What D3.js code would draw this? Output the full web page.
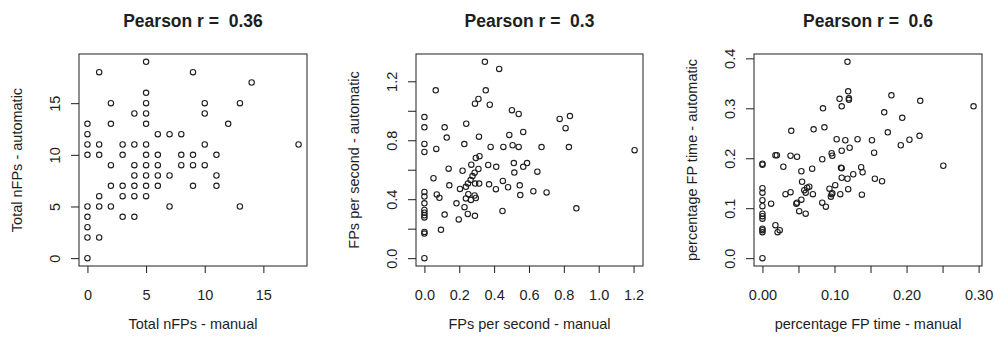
<!DOCTYPE html>
<html>
<head>
<meta charset="utf-8">
<script src="https://cdn.jsdelivr.net/npm/d3@7"></script>
<style>
  body { margin: 0; background: #fff; }
  svg { display: block; }
  text { font-family: "Liberation Sans", Arial, sans-serif; fill: #1e1e1e; white-space: pre; }
</style>
</head>
<body>
<svg id="chart" width="994" height="339"></svg>
<script>
// panel 1 - total number of FPs (counts)
const nfpManual = [
  0, 0, 0, 0, 0, 0, 0, 0, 0,
  1, 1, 1, 1, 1, 1,
  2, 2, 2, 2, 2,
  3, 3, 3, 3, 3,
  4, 4, 4, 4, 4, 4, 4,
  5, 5, 5, 5, 5, 5, 5, 5, 5, 5, 5,
  6, 6, 6, 6, 6,
  7, 7, 7,
  8, 8, 8,
  9, 9, 9, 9,
  10, 10, 10, 10,
  11, 11, 11,
  12, 13, 13, 14, 18
];
const nfpAuto = [
  13, 12, 11, 10, 5, 4, 3, 2, 0,
  18, 11, 10, 6, 5, 2,
  15, 13, 9, 7, 5,
  11, 10, 7, 6, 4,
  14, 11, 9, 8, 7, 6, 4,
  19, 16, 15, 14, 13, 11, 10, 9, 8, 7, 6,
  12, 10, 9, 8, 7,
  12, 8, 5,
  12, 10, 9,
  18, 10, 9, 7,
  15, 14, 11, 9,
  10, 8, 7,
  13, 15, 5, 17, 11
];

// panel 2 - FPs per second
const fpsManual = [
  0.347, 0.429, 0.065, 0.352, 0.310, 0.290, 0.375, 0.502, 0.541, 0, 0.776, 0.835,
  0, 0.116, 0.810, 0.240, 0.567, 0.487, 0.128, 0.313, 0, 0, 0.229, 0.068,
  0.380, 0.453, 0.506, 0.541, 0.672, 0.829, 1.206, 0.139, 0.219, 0.310, 0.269, 0.295,
  0.316, 0.366, 0.412, 0.513, 0.589, 0.516, 0.567, 0.648, 0.052, 0.143, 0.204, 0.238,
  0.250, 0.265, 0.276, 0.288, 0.291, 0.314, 0.371, 0.410, 0.450, 0.480, 0.547, 0.550,
  0.625, 0.701, 0, 0, 0, 0, 0, 0, 0, 0, 0, 0,
  0.071, 0.086, 0.116, 0.095, 0.184, 0.197, 0.230, 0.238, 0.252, 0.249, 0.267, 0.288,
  0.295, 0.290, 0.448, 0.872
];
const fpsAuto = [
  1.332, 1.284, 1.139, 1.139, 1.080, 1.048, 1.041, 1.004, 0.978, 0.957, 0.945, 0.964,
  0.888, 0.888, 0.882, 0.912, 0.856, 0.836, 0.818, 0.824, 0.775, 0.721, 0.774, 0.741,
  0.755, 0.755, 0.766, 0.755, 0.754, 0.754, 0.733, 0.607, 0.593, 0.605, 0.634, 0.680,
  0.692, 0.632, 0.620, 0.645, 0.645, 0.581, 0.620, 0.587, 0.542, 0.494, 0.470, 0.484,
  0.507, 0.530, 0.557, 0.580, 0.506, 0.506, 0.501, 0.468, 0.524, 0.481, 0.494, 0.428,
  0.454, 0.446, 0.449, 0.418, 0.372, 0.327, 0.308, 0.291, 0.276, 0.178, 0.167, 0,
  0.432, 0.410, 0.296, 0.192, 0.372, 0.263, 0.346, 0.405, 0.434, 0.300, 0.395, 0.425,
  0.408, 0.287, 0.320, 0.338
];

// panel 3 - percentage of time spent in FPs
const timeManual = [
  0.118, 0.119, 0.120, 0.120, 0.107, 0.110, 0.084, 0.179, 0.169, 0.219, 0.293, 0.194,
  0.086, 0.071, 0.040, 0.174, 0.218, 0.204, 0.103, 0.115, 0.132, 0.152, 0.192, 0.121,
  0.110, 0.155, 0.096, 0.097, 0.018, 0.020, 0.039, 0.048, 0, 0, 0.029, 0.083,
  0.069, 0.054, 0.109, 0.110, 0.137, 0.139, 0.251, 0.126, 0.110, 0.118, 0.156, 0.166,
  0.055, 0.101, 0.093, 0.119, 0.065, 0.062, 0.058, 0.060, 0.070, 0.032, 0.039, 0.108,
  0.097, 0.096, 0.095, 0.138, 0.054, 0.048, 0.047, 0.083, 0.088, 0.012, 0.051, 0.060,
  0, 0, 0, 0, 0, 0, 0, 0, 0, 0, 0.018, 0.021, 0.024, 0
];
const timeAuto = [
  0.393, 0.334, 0.320, 0.317, 0.319, 0.304, 0.300, 0.326, 0.292, 0.315, 0.304, 0.281,
  0.262, 0.258, 0.255, 0.252, 0.245, 0.237, 0.238, 0.236, 0.238, 0.236, 0.226, 0.221,
  0.215, 0.211, 0.210, 0.205, 0.206, 0.206, 0.205, 0.203, 0.189, 0.187, 0.183, 0.198,
  0.179, 0.174, 0.181, 0.180, 0.182, 0.172, 0.185, 0.168, 0.161, 0.159, 0.159, 0.154,
  0.153, 0.146, 0.139, 0.138, 0.143, 0.141, 0.136, 0.131, 0.128, 0.128, 0.132, 0.128,
  0.130, 0.128, 0.123, 0.127, 0.117, 0.111, 0.109, 0.111, 0.103, 0.109, 0.094, 0.089,
  0.140, 0.131, 0.116, 0.104, 0.089, 0.084, 0.079, 0.059, 0.056, 0.052, 0.066, 0.052,
  0.056, 0
];

// titles and axis text
const titles = ["Pearson r =  0.36", "Pearson r =  0.3", "Pearson r =  0.6"];
const xTitles = ["Total nFPs - manual", "FPs per second - manual", "percentage FP time - manual"];
const yTitles = ["Total nFPs - automatic", "FPs per second - automatic", "percentage FP time - automatic"];

// tick positions, and the labels R keeps (empty = tick without label)
const xTicks = [[0, 5, 10, 15], [0, 0.2, 0.4, 0.6, 0.8, 1.0, 1.2], [0, 0.05, 0.1, 0.15, 0.2, 0.25, 0.3]];
const xTickLabels = [["0", "5", "10", "15"], ["0.0", "0.2", "0.4", "0.6", "0.8", "1.0", "1.2"],
  ["0.00", "", "0.10", "", "0.20", "", "0.30"]];
const yTicks = [[0, 5, 10, 15], [0, 0.2, 0.4, 0.6, 0.8, 1.0, 1.2], [0, 0.1, 0.2, 0.3, 0.4]];
const yTickLabels = [["0", "5", "10", "15"], ["0.0", "", "0.4", "", "0.8", "", "1.2"],
  ["0.0", "0.1", "0.2", "0.3", "0.4"]];

const xs = [nfpManual, fpsManual, timeManual];
const ys = [nfpAuto, fpsAuto, timeAuto];

// plot boxes (left, right) – all share the same top / bottom
const boxLeft = [79, 416, 754];
const boxRight = [307, 643, 982];
const boxTop = 54, boxBottom = 266;

const ink = "#1e1e1e";
const svg = d3.select("#chart");
svg.append("rect").attr("width", 994).attr("height", 339).attr("fill", "#fff");

// R style: data range padded by 4% on both sides
const padded = arr => {
  const [lo, hi] = d3.extent(arr);
  const p = (hi - lo) * 0.04;
  return [lo - p, hi + p];
};

for (let i = 0; i < 3; i++) {
  const x = d3.scaleLinear().domain(padded(xs[i])).range([boxLeft[i], boxRight[i]]);
  const y = d3.scaleLinear().domain(padded(ys[i])).range([boxBottom, boxTop]);
  const g = svg.append("g");
  const cx = (boxLeft[i] + boxRight[i]) / 2;
  const cy = (boxTop + boxBottom) / 2;

  // x axis
  const xa = g.append("g")
    .attr("transform", `translate(0,${boxBottom})`)
    .call(d3.axisBottom(x)
      .tickValues(xTicks[i])
      .tickFormat((d, k) => xTickLabels[i][k])
      .tickSizeOuter(0)
      .tickSizeInner(7));
  xa.select(".domain").remove();
  xa.selectAll("line").attr("stroke", ink);
  xa.selectAll("text")
    .attr("y", 34).attr("dy", 0)
    .attr("font-size", 14.5)
    .attr("fill", ink);

  // y axis, labels parallel to the axis
  const ya = g.append("g")
    .attr("transform", `translate(${boxLeft[i]},0)`)
    .call(d3.axisLeft(y)
      .tickValues(yTicks[i])
      .tickFormat((d, k) => yTickLabels[i][k])
      .tickSizeOuter(0)
      .tickSizeInner(8));
  ya.select(".domain").remove();
  ya.selectAll("line").attr("stroke", ink);
  ya.selectAll("text")
    .attr("x", 0).attr("dy", 0)
    .attr("text-anchor", "middle")
    .attr("transform", "translate(-19,0) rotate(-90)")
    .attr("font-size", 14.5)
    .attr("fill", ink);

  // box
  g.append("rect")
    .attr("x", boxLeft[i]).attr("y", boxTop)
    .attr("width", boxRight[i] - boxLeft[i])
    .attr("height", boxBottom - boxTop)
    .attr("fill", "none")
    .attr("stroke", ink)
    .attr("stroke-width", 1);

  // points (open circles, pch = 1)
  g.append("g").selectAll("circle")
    .data(d3.range(xs[i].length))
    .join("circle")
    .attr("cx", k => x(xs[i][k]))
    .attr("cy", k => y(ys[i][k]))
    .attr("r", 2.7)
    .attr("fill", "none")
    .attr("stroke", ink)
    .attr("stroke-width", 1.1);

  // titles
  g.append("text")
    .attr("x", cx).attr("y", 27)
    .attr("text-anchor", "middle")
    .attr("font-size", 17.5)
    .attr("font-weight", "bold")
    .text(titles[i]);

  g.append("text")
    .attr("x", cx).attr("y", 329)
    .attr("text-anchor", "middle")
    .attr("font-size", 14.5)
    .text(xTitles[i]);

  g.append("text")
    .attr("transform", `translate(${boxLeft[i] - 57},${cy}) rotate(-90)`)
    .attr("text-anchor", "middle")
    .attr("font-size", 14.5)
    .text(yTitles[i]);
}
</script>
</body>
</html>
